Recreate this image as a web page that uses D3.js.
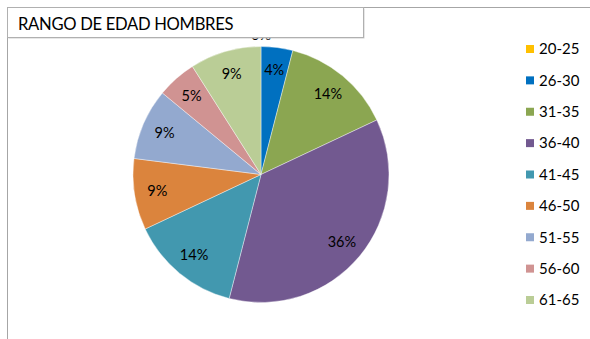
<!DOCTYPE html>
<html>
<head>
<meta charset="utf-8">
<script src="https://cdn.jsdelivr.net/npm/d3@7"></script>
<style>
  html, body { margin: 0; padding: 0; background: #fff; }
  svg { display: block; }
  text { font-family: Lato, "Open Sans", sans-serif; fill: #000; }
</style>
</head>
<body>
<svg id="chart" width="590" height="339"></svg>
<script>
// Age groups and their share of the total (percent)
const categories = ["20-25", "26-30", "31-35", "36-40", "41-45", "46-50", "51-55", "56-60", "61-65"];
const values = [0, 4, 14, 36, 14, 9, 9, 5, 9];
const colors = ["#FFC000", "#0070C0", "#8BA651", "#725990", "#4298AF", "#DB843D", "#93A9CF", "#D09392", "#BACD96"];
const title = "RANGO DE EDAD HOMBRES";

const svg = d3.select("#chart");
const W = 590, H = 339;
const cx = 261, cy = 174.5, R = 128, labelR = 105;

const data = categories.map((c, i) => ({ cat: c, value: values[i] }));
const color = d3.scaleOrdinal().domain(categories).range(colors);

const pie = d3.pie().value(d => d.value).sort(null);
const arcs = pie(data);
const arc = d3.arc().innerRadius(0).outerRadius(R);
const labelArc = d3.arc().innerRadius(labelR).outerRadius(labelR);

// chart frame (top and left edges)
svg.append("path")
  .attr("d", `M7.5,${H} V7.5 H${W}`)
  .attr("fill", "none")
  .attr("stroke", "#a6a6a6")
  .attr("stroke-width", 1);

const g = svg.append("g").attr("transform", `translate(${cx},${cy})`);

g.selectAll("path.slice")
  .data(arcs)
  .join("path")
  .attr("class", "slice")
  .attr("d", arc)
  .attr("fill", d => color(d.data.cat))
  .attr("stroke", "#fff")
  .attr("stroke-width", 0.4);

g.selectAll("text.pct")
  .data(arcs)
  .join("text")
  .attr("class", "pct")
  .attr("transform", d => {
    const p = d.data.value === 0 ? [0, -(R + 12)] : labelArc.centroid(d);
    return `translate(${p[0]},${p[1]})`;
  })
  .attr("text-anchor", "middle")
  .attr("dy", "0.35em")
  .attr("font-size", 14.5)
  .text(d => d.data.value + "%");

// title box (drawn over the pie so it overlaps the 0% label)
svg.append("rect")
  .attr("x", 8.5).attr("y", 8.5)
  .attr("width", 356).attr("height", 30)
  .attr("fill", "#d0d0d0");
svg.append("rect")
  .attr("x", 7.5).attr("y", 7.5)
  .attr("width", 356).attr("height", 30)
  .attr("fill", "#fff")
  .attr("stroke", "#b0b0b0")
  .attr("stroke-width", 1);
svg.append("text")
  .attr("x", 18).attr("y", 30)
  .attr("font-size", 16.6)
  .attr("letter-spacing", -0.3)
  .text(title);

// legend
const ly = d3.scalePoint().domain(categories).range([49, 300]);
const legend = svg.append("g")
  .selectAll("g")
  .data(categories)
  .join("g")
  .attr("transform", d => `translate(526,${ly(d)})`);
legend.append("rect")
  .attr("x", 0).attr("y", -4)
  .attr("width", 8).attr("height", 8)
  .attr("fill", d => color(d));
legend.append("text")
  .attr("x", 13).attr("y", 0)
  .attr("dy", "0.35em")
  .attr("font-size", 15)
  .text(d => d);
</script>
</body>
</html>
